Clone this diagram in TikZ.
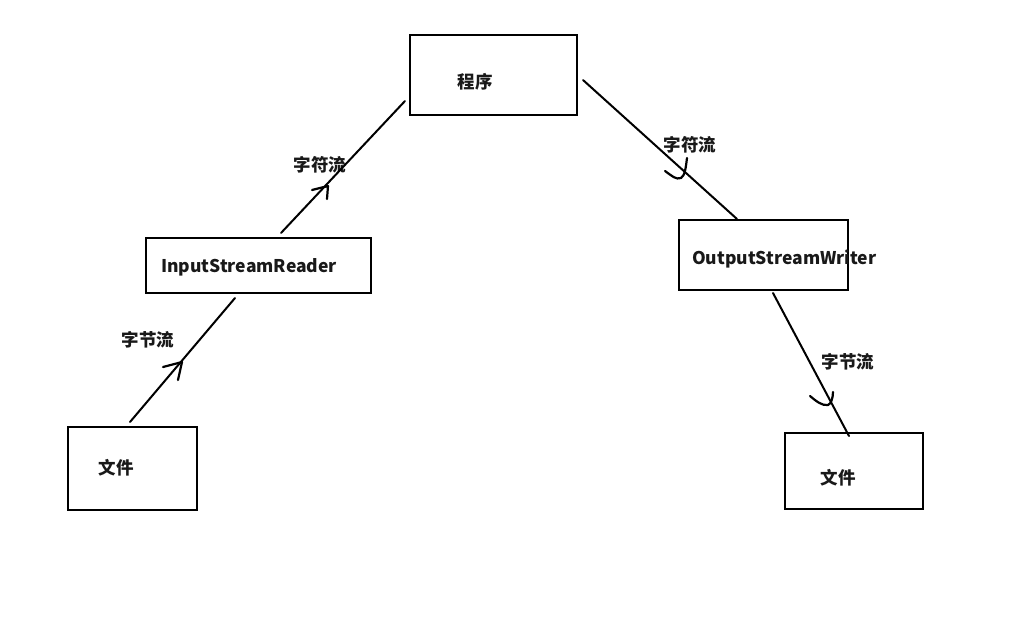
\documentclass[tikz,border=0pt]{standalone}
\usepackage{fontspec}
\setmainfont{Noto Sans CJK SC}
\begin{document}
\begin{tikzpicture}[x=1pt,y=-1pt,
  box/.style={draw=black,line width=2.6pt,inner sep=0pt,outer sep=0pt,anchor=north west},
  lbl/.style={font=\fontsize{17.5}{19}\selectfont\bfseries,inner sep=0pt,text=black!90},
  flow/.style={line width=2pt,line cap=round},
  hook/.style={line width=2.2pt,line cap=round,line join=round}]
\useasboundingbox (0,0) rectangle (1023,633);
\fill[white] (0,0) rectangle (1023,633);

% boxes
\node[box,minimum width=167pt,minimum height=80pt] (prog) at (410,35) {};
\node[box,minimum width=225pt,minimum height=55pt] (isr) at (146,238) {};
\node[box,minimum width=169pt,minimum height=70pt] (osw) at (679,220) {};
\node[box,minimum width=129pt,minimum height=83pt] (fileL) at (68,427) {};
\node[box,minimum width=138pt,minimum height=76pt] (fileR) at (785,433) {};

% box texts
\node[lbl] (tprog) at (475,82) {程序};
\node[lbl,anchor=west] (tisr) at (161,267) {InputStreamReader};
\node[lbl,anchor=west] (tosw) at (692,259) {OutputStreamWriter};
\node[lbl] (tfileL) at (116,468) {文件};
\node[lbl] (tfileR) at (838,478) {文件};

% flow labels
\node[lbl] (l1) at (148,340) {字节流};
\node[lbl] (l2) at (320,165) {字符流};
\node[lbl] (l3) at (690,145) {字符流};
\node[lbl] (l4) at (848,362) {字节流};

% connector ends
\coordinate (a1) at (130,422);
\coordinate (a2) at (235,298);
\coordinate (b1) at (281,233);
\coordinate (b2) at (405,101);
\coordinate (c1) at (583,80);
\coordinate (c2) at (737,219);
\coordinate (d1) at (773,293);
\coordinate (d2) at (849,436);

\draw[flow] (a1) -- (a2);
\draw[flow] (b1) -- (b2);
\draw[flow] (c1) -- (c2);
\draw[flow] (d1) -- (d2);

% hand-drawn arrow marks
\draw[hook] (163,367) -- (182,362) -- (178,380);
\draw[hook] (312,190) -- (328,186) -- (327,199);
\draw[hook] (665,171) .. controls (672,176) and (676,180) .. (681,178) .. controls (685,176) and (686,166) .. (687,158);
\draw[hook] (810,396) .. controls (816,401) and (822,406) .. (828,405) .. controls (831,404) and (833,398) .. (833,392);
\end{tikzpicture}
\end{document}
